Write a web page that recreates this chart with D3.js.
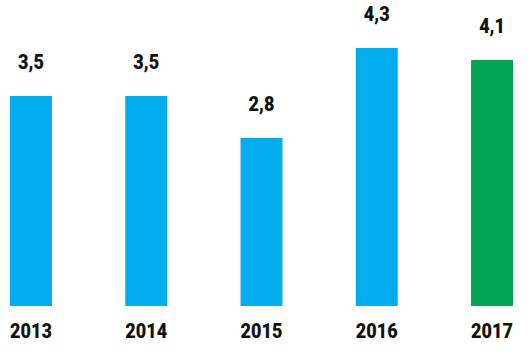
<!DOCTYPE html>
<html>
<head>
<meta charset="utf-8">
<script src="https://cdn.jsdelivr.net/npm/d3@7"></script>
<style>
  html, body { margin: 0; padding: 0; background: #fff; }
  svg { display: block; }
  text { font-family: Roboto, "Liberation Sans", sans-serif; font-weight: 900; fill: #111; }
</style>
</head>
<body>
<svg id="chart" width="530" height="358"></svg>
<script>
const years = ["2013", "2014", "2015", "2016", "2017"];
const values = [3.5, 3.5, 2.8, 4.3, 4.1];
const valueLabels = ["3,5", "3,5", "2,8", "4,3", "4,1"];
const barColors = ["#00AEEF", "#00AEEF", "#00AEEF", "#00AEEF", "#00A651"];

const svg = d3.select("#chart");
const baseline = 306;

const x = d3.scaleBand().domain(years).range([10, 513]).paddingInner(0.636).paddingOuter(0);
const y = d3.scaleLinear().domain([0, 5]).range([baseline, baseline - 300]);

const data = years.map((yr, i) => ({ yr, v: values[i], lab: valueLabels[i], c: barColors[i] }));

svg.selectAll("rect.bar").data(data).join("rect")
  .attr("class", "bar")
  .attr("x", d => x(d.yr))
  .attr("width", x.bandwidth())
  .attr("y", d => y(d.v))
  .attr("height", d => y(0) - y(d.v))
  .attr("fill", d => d.c);

const sx = 0.86;
svg.selectAll("text.val").data(data).join("text")
  .attr("class", "val")
  .attr("text-anchor", "middle")
  .attr("font-size", 21)
  .attr("transform", d => `translate(${x(d.yr) + x.bandwidth() / 2},${y(d.v) - 27}) scale(${sx},1)`)
  .text(d => d.lab);

const xAxis = d3.axisBottom(x).tickSize(0).tickPadding(0);
const ax = svg.append("g").attr("transform", `translate(0,${baseline})`).call(xAxis);
ax.select(".domain").remove();
ax.selectAll(".tick text")
  .attr("y", 0).attr("dy", 0)
  .attr("font-size", 21)
  .attr("font-family", "Roboto, 'Liberation Sans', sans-serif")
  .attr("font-weight", 900)
  .attr("fill", "#111")
  .attr("transform", `translate(0,32) scale(${sx},1)`);
</script>
</body>
</html>
